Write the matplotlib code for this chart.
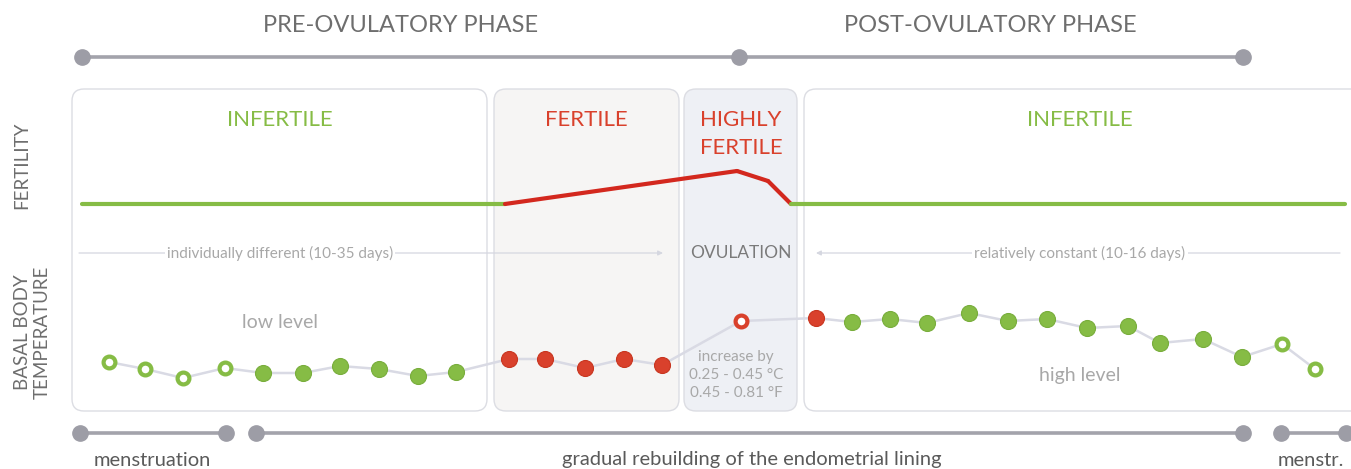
import matplotlib
matplotlib.use('Agg')
import matplotlib.pyplot as plt
from matplotlib.patches import FancyBboxPatch

FONT = ['Lato', 'DejaVu Sans']
plt.rcParams['font.family'] = FONT

GREEN = '#86bc45'
RED = '#d9412c'
LINE_RED = '#d3281e'
GREY_LINE = '#a3a3ab'
TXT_DARK = '#6e6e6e'
TXT_LIGHT = '#a8a8a8'

# ── data (diagram units = pixels) ──
phase_labels = ['PRE-OVULATORY PHASE', 'POST-OVULATORY PHASE']
phase_label_x = [401, 990]
phase_marks = [82, 739, 1243]

boxes_x0 = [72, 494, 684, 804]
boxes_x1 = [487, 679, 797, 1365]
boxes_fill = ['white', '#f6f5f4', '#eef0f5', 'white']
fert_labels = ['INFERTILE', 'FERTILE', 'HIGHLY\nFERTILE', 'INFERTILE']
fert_label_x = [280, 586, 741, 1080]
fert_colors = [GREEN, RED, RED, GREEN]

fertility_x = [82, 505, 737, 768, 791, 1345]
fertility_y = [204, 204, 171, 181, 204, 204]
fertility_seg_colors = [GREEN, LINE_RED, LINE_RED, LINE_RED, GREEN]

temp_x = [109, 145, 183, 225, 263, 303, 340, 379, 418, 456,
          509, 545, 585, 624, 662, 741, 816,
          852, 890, 927, 969, 1008, 1047, 1087, 1128, 1160, 1203, 1242,
          1282, 1315]
temp_y = [362, 369, 378, 368, 373, 373, 366, 369, 376, 372,
          359, 359, 368, 359, 365, 321, 318,
          322, 319, 323, 313, 321, 319, 328, 326, 343, 339, 357,
          344, 369]
temp_kind = (['hollow_g'] * 4 + ['green'] * 6 + ['red'] * 5 + ['hollow_r'] +
             ['red'] + ['green'] * 11 + ['hollow_g'] * 2)

cycle_segments = [(80, 226), (256, 1243), (1281, 1346)]
cycle_labels = ['menstruation', 'gradual rebuilding of the endometrial lining', 'menstr.']
cycle_label_x = [152, 752, 1311]

fig = plt.figure(figsize=(13.51, 4.69), dpi=100)
ax = fig.add_axes([0, 0, 1, 1])
ax.set_xlim(0, 1351)
ax.set_ylim(469, 0)
ax.axis('off')

# ── phase header ──
ax.plot([phase_marks[0], phase_marks[-1]], [57, 57], color=GREY_LINE, lw=2.6,
        solid_capstyle='butt', zorder=2)
ax.plot(phase_marks, [57] * len(phase_marks), 'o', color='#9d9da6', ms=11, zorder=3)
for lab, x in zip(phase_labels, phase_label_x):
    ax.text(x, 26, lab, ha='center', va='center', fontsize=17, color=TXT_DARK)

# ── boxes ──
for x0, x1, fc in zip(boxes_x0, boxes_x1, boxes_fill):
    ax.add_patch(FancyBboxPatch((x0, 89), x1 - x0, 322,
                                boxstyle='round,pad=0,rounding_size=12',
                                fc=fc, ec='#dcdde3', lw=1.0, zorder=0))
for lab, x, col in zip(fert_labels, fert_label_x, fert_colors):
    ax.text(x, 134 if '\n' in lab else 120, lab, ha='center', va='center',
            fontsize=16, color=col, linespacing=1.5)

# ── side labels ──
ax.text(22, 165, 'FERTILITY', rotation=90, ha='center', va='center',
        fontsize=13.5, color=TXT_DARK)
ax.text(32, 332, 'BASAL BODY\nTEMPERATURE', rotation=90, ha='center', va='center',
        fontsize=13.5, color=TXT_DARK, linespacing=1.2)

# ── fertility curve ──
for i, col in enumerate(fertility_seg_colors):
    ax.plot(fertility_x[i:i + 2], fertility_y[i:i + 2], color=col, lw=3,
            solid_capstyle='round', zorder=4)

# ── duration lines ──
ax.annotate('', xy=(663, 253), xytext=(79, 253),
            arrowprops=dict(arrowstyle='-|>', color='#d5d7e0', lw=0.9,
                            mutation_scale=7, shrinkA=0, shrinkB=0), zorder=2)
ax.annotate('', xy=(816, 253), xytext=(1340, 253),
            arrowprops=dict(arrowstyle='-|>', color='#d5d7e0', lw=0.9,
                            mutation_scale=7, shrinkA=0, shrinkB=0), zorder=2)
ax.text(280, 253, 'individually different (10-35 days)', ha='center', va='center',
        fontsize=11, color=TXT_LIGHT, zorder=3,
        bbox=dict(fc='white', ec='none', pad=1.5))
ax.text(1080, 253, 'relatively constant (10-16 days)', ha='center', va='center',
        fontsize=11, color=TXT_LIGHT, zorder=3,
        bbox=dict(fc='white', ec='none', pad=1.5))
ax.text(741, 253, 'OVULATION', ha='center', va='center', fontsize=12.5,
        color='#7a7a7a')

ax.text(280, 322, 'low level', ha='center', va='center', fontsize=14,
        color=TXT_LIGHT)
ax.text(1080, 375, 'high level', ha='center', va='center', fontsize=14,
        color=TXT_LIGHT)
ax.text(736, 375, 'increase by\n0.25 - 0.45 °C\n0.45 - 0.81 °F', ha='center',
        va='center', fontsize=11, color=TXT_LIGHT, linespacing=1.35)

# ── basal body temperature ──
ax.plot(temp_x, temp_y, color='#d9dae4', lw=1.8, zorder=5)
for x, y, k in zip(temp_x, temp_y, temp_kind):
    if k == 'green':
        ax.plot(x, y, 'o', ms=11.5, mfc=GREEN, mec='#78ad3b', mew=0.8, zorder=6)
    elif k == 'red':
        ax.plot(x, y, 'o', ms=11.5, mfc=RED, mec='#c8351f', mew=0.8, zorder=6)
    elif k == 'hollow_g':
        ax.plot(x, y, 'o', ms=8.5, mfc='white', mec=GREEN, mew=3.0, zorder=6)
    else:
        ax.plot(x, y, 'o', ms=8.5, mfc='white', mec=RED, mew=3.0, zorder=6)

# ── cycle bar ──
for (x0, x1), lab, lx in zip(cycle_segments, cycle_labels, cycle_label_x):
    ax.plot([x0, x1], [433, 433], color=GREY_LINE, lw=2.6, solid_capstyle='butt', zorder=2)
    ax.plot([x0, x1], [433, 433], 'o', color='#9d9da6', ms=11, zorder=3)
    ax.text(lx, 460, lab, ha='center', va='center', fontsize=14.5, color='#5a5a5a')

fig.savefig('out.png', dpi=100)
